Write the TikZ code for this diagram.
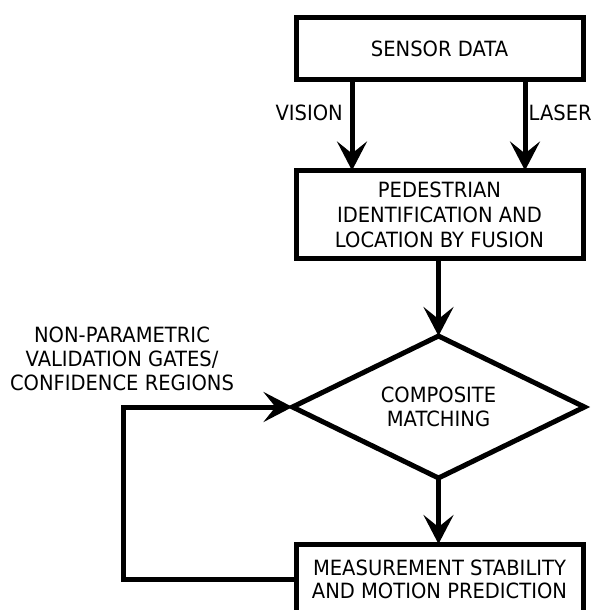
\documentclass[tikz,border=0pt]{standalone}
\usepackage{fontspec}
\setmainfont{DejaVu Sans}[FakeStretch=0.93]
\usetikzlibrary{arrows.meta,shapes.geometric}

\tikzset{
  flow/.style={line width=5pt},
  arr/.style={flow, -{Stealth[length=29pt,width=30pt,inset=12pt]}},
  procbox/.style={draw, line width=5pt, rectangle, minimum width=287pt,
    inner sep=0pt, outer sep=0pt, align=center,
    font=\fontsize{21}{25}\selectfont},
  decision/.style={draw, line width=5pt, diamond, aspect=2,
    minimum width=292pt, minimum height=142pt, inner sep=0pt, outer sep=0pt,
    align=center, font=\fontsize{21}{24}\selectfont},
  lbl/.style={inner sep=0pt, align=center, font=\fontsize{21}{24}\selectfont}
}

\begin{document}
\begin{tikzpicture}[x=1pt, y=-1pt]
  \useasboundingbox (0,0) rectangle (591,610);
  \clip (0,0) rectangle (591,610);

  % process blocks
  \node[procbox, minimum height=62pt] (sensor) at (439.5,48.5) {SENSOR DATA};
  \node[procbox, minimum height=88pt] (fusion) at (439.5,214.5)
    {PEDESTRIAN\\IDENTIFICATION AND\\LOCATION BY FUSION};
  \node[decision] (match) at (438.5,407) {COMPOSITE\\MATCHING};
  \node[procbox, minimum height=70pt, font=\fontsize{21}{23}\selectfont]
    (predict) at (439.5,579)
    {MEASUREMENT STABILITY\\AND MOTION PREDICTION};

  % sensor channels
  \draw[arr] (sensor.south -| 352,0) -- (fusion.north -| 352,0);
  \draw[arr] (sensor.south -| 525,0) -- (fusion.north -| 525,0);
  \node[lbl, anchor=east] (vision) at (343,113) {VISION};
  \node[lbl, anchor=west] (laser) at (528.5,113) {LASER};

  % main flow
  \draw[arr] (fusion.south -| match.north) -- (match.north);
  \draw[arr] (match.south) -- (predict.north -| match.south);

  % feedback loop
  \coordinate (loopbot) at (123,579);
  \coordinate (looptop) at (123,407);
  \draw[arr, line join=miter] (predict.west) -- (loopbot) -- (looptop) -- (match.west);
  \node[lbl] (gates) at (122,359)
    {NON-PARAMETRIC\\VALIDATION GATES/\\CONFIDENCE REGIONS};
\end{tikzpicture}
\end{document}
